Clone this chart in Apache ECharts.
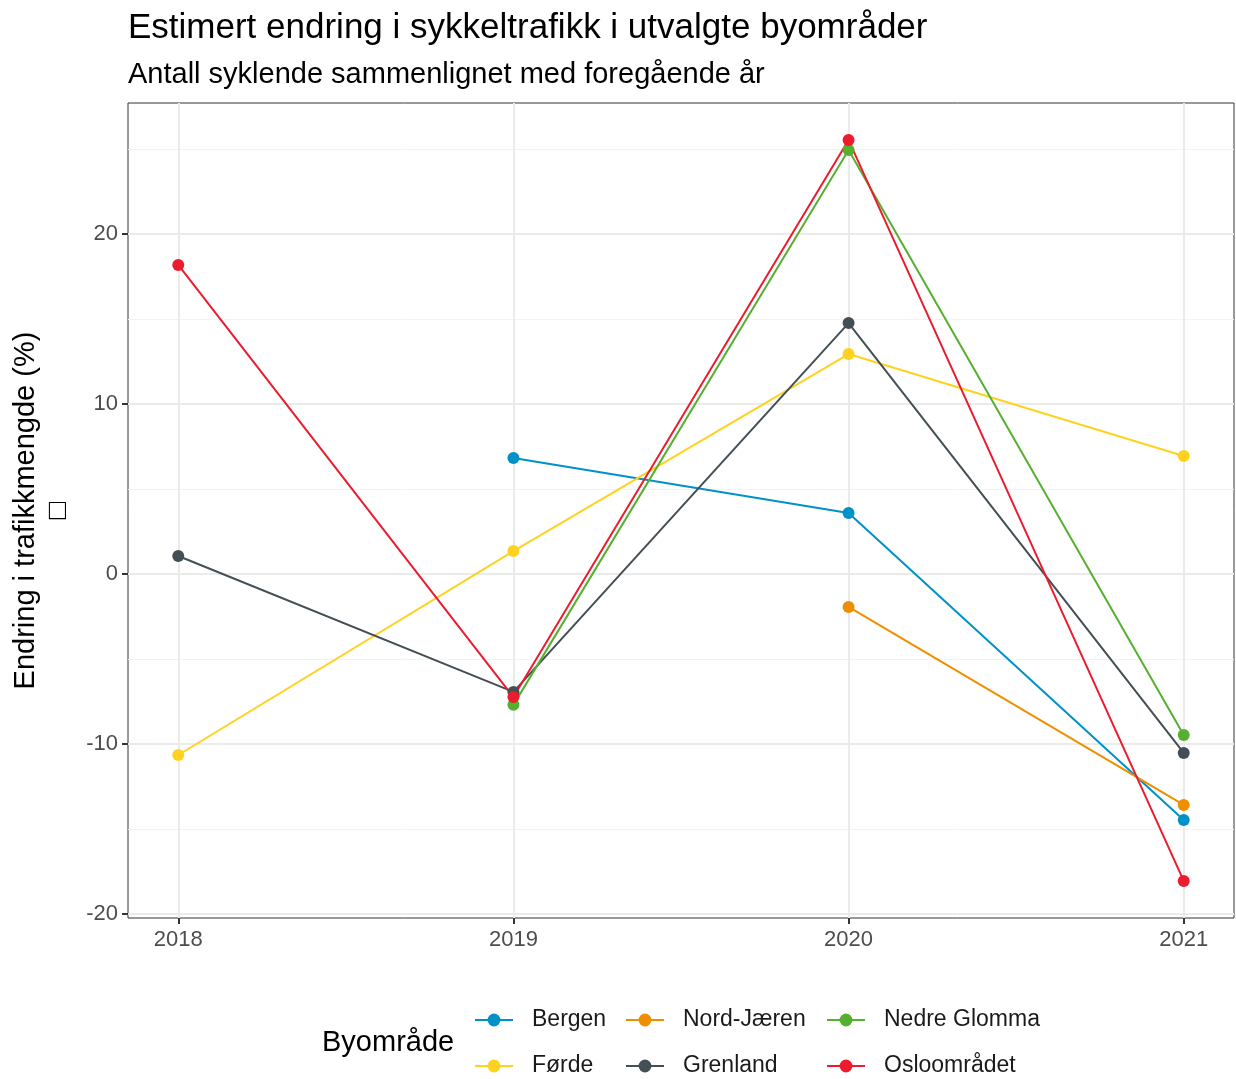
<!DOCTYPE html>
<html>
<head>
<meta charset="utf-8">
<script src="https://cdn.jsdelivr.net/npm/echarts@6/dist/echarts.min.js"></script>
<style>
  html, body { margin: 0; padding: 0; background: #fff; }
  #main { width: 1236px; height: 1079px; }
</style>
</head>
<body>
<div id="main"></div>
<script>
// years on the x axis
var years = [2018, 2019, 2020, 2021];
// change in cycle traffic (%), null = no value that year
var bergen      = [null, 6.82, 3.59, -14.47];
var forde       = [-10.65, 1.35, 12.94, 6.94];
var nordJaeren  = [null, null, -1.94, -13.59];
var grenland    = [1.06, -6.94, 14.76, -10.53];
var nedreGlomma = [null, -7.7, 24.94, -9.47];
var oslo        = [18.18, -7.24, 25.53, -18.06];

var yTicks = [-20, -10, 0, 10, 20];
var yMinor = [-15, -5, 5, 15, 25];

var font = 'Liberation Sans, Arial, sans-serif';

var seriesDef = [
  {name: 'Bergen', data: bergen, color: '#0091c9'},
  {name: 'Førde', data: forde, color: '#ffd21f'},
  {name: 'Nord-Jæren', data: nordJaeren, color: '#ef8f00'},
  {name: 'Grenland', data: grenland, color: '#444f55'},
  {name: 'Nedre Glomma', data: nedreGlomma, color: '#56b02f'},
  {name: 'Osloområdet', data: oslo, color: '#ec1b2e'}
];

function pairs(vals){
  var out = [];
  vals.forEach(function(v, i){
    if (v !== null) out.push([years[i], v]);
  });
  return out;
}

var chart = echarts.init(document.getElementById('main'), null, {renderer: 'canvas'});

//one legend per key so the 3x2 layout is exact
var legendPos = [[474, 1008], [474, 1054], [625, 1008], [625, 1054], [826, 1008], [826, 1054]];
var legends = seriesDef.map(function(s, i){
  return {
    left: legendPos[i][0],
    top: legendPos[i][1],
    padding: 0,
    itemWidth: 38,
    itemHeight: 16,
    data: [s.name],
    textStyle: {fontFamily: font, fontSize: 23, lineHeight: 24, color: '#1a1a1a', padding: [0, 0, 0, 14]}
  };
});

var option = {
  backgroundColor: '#ffffff',
  animation: false,
  title: [{
    text: 'Estimert endring i sykkeltrafikk i utvalgte byområder',
    left: 123,
    top: 6,
    textStyle: {fontFamily: font, fontSize: 35, fontWeight: 'normal', color: '#000'}
  }, {
    text: 'Antall syklende sammenlignet med foregående år',
    left: 123,
    top: 55,
    textStyle: {fontFamily: font, fontSize: 29, fontWeight: 'normal', color: '#000'}
  }, {
    text: 'Byområde',
    left: 317,
    top: 1023,
    textStyle: {fontFamily: font, fontSize: 29, fontWeight: 'normal', color: '#000', lineHeight: 30}
  }],
  legend: legends,
  grid: {left: 128, right: 2, top: 103, bottom: 161, show: true, borderColor: '#333', borderWidth: 1},
  xAxis: {
    type: 'value',
    min: 2017.85,
    max: 2021.15,
    axisLine: {show: false, onZero: false},
    axisTick: {show: true, length: 6, lineStyle: {color: '#333', width: 2}, customValues: years},
    axisLabel: {customValues: years, formatter: function(v){ return String(v); },
      fontFamily: font, fontSize: 22, color: '#4d4d4d', margin: 11},
    splitLine: {show: true, lineStyle: {color: '#ebebeb', width: 2}}
  },
  yAxis: [{
    type: 'value',
    min: -20.24,
    max: 27.71,
    name: 'Endring i trafikkmengde (%)\n\u25a1',
    nameLocation: 'middle',
    nameGap: 54,
    nameRotate: 90,
    nameTextStyle: {fontFamily: font, fontSize: 29, color: '#000', lineHeight: 32},
    axisLine: {show: false, onZero: false},
    axisTick: {show: true, length: 6, lineStyle: {color: '#333', width: 2}, customValues: yTicks},
    axisLabel: {customValues: yTicks, fontFamily: font, fontSize: 22, color: '#4d4d4d', margin: 10},
    splitLine: {show: true, lineStyle: {color: '#ebebeb', width: 2}}
  }, {
    //minor grid
    type: 'value',
    min: -20.24,
    max: 27.71,
    position: 'left',
    axisLine: {show: false, onZero: false},
    axisTick: {show: false, customValues: yMinor},
    axisLabel: {show: false, customValues: yMinor},
    splitLine: {show: true, lineStyle: {color: '#f3f3f3', width: 1}}
  }],
  series: seriesDef.map(function(s){
    return {
      name: s.name,
      type: 'line',
      data: pairs(s.data),
      color: s.color,
      symbol: 'circle',
      symbolSize: 12,
      lineStyle: {width: 2},
      emphasis: {disabled: true}
    };
  })
};

chart.setOption(option);
</script>
</body>
</html>
